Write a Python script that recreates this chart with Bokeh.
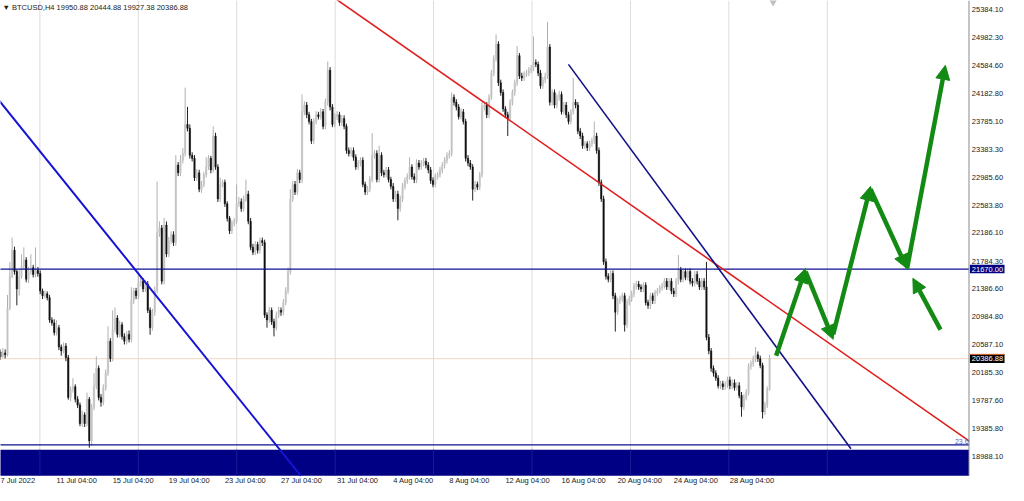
from bokeh.plotting import figure
from bokeh.models import ColumnDataSource, Range1d, Label, Arrow, NormalHead
from bokeh.core.properties import value
from bokeh.embed import file_html
from bokeh.resources import INLINE

# ---------------- data (BTCUSD H4, bar index 0 = 7 Jul 2022 00:00) ----------------
first_open = 20429
closes = [
    20484, 20415, 20470, 20443, 21108, 21565, 21939, 21634, 21385, 21565,
    21704, 21800, 21523, 21634, 21690, 21593, 21648, 21607, 21357, 21288,
    21316, 21260, 20941, 20900, 20761, 20831, 20554, 20498, 20567, 20401,
    19833, 19944, 19986, 19806, 19723, 19459, 19584, 19459, 19806, 19210,
    19695, 19999, 20249, 19833, 19764, 19972, 20180, 20637, 20387, 20803,
    20969, 20734, 20872, 20706, 20637, 20734, 20664, 21219, 21357, 21288,
    21468, 21496, 21385, 21454, 21080, 20831, 21052, 21357, 22188, 22258,
    21496, 22299, 21884, 22077, 22161, 22050, 23158, 23047, 23227, 23324,
    23740, 23684, 23297, 23255, 22978, 23047, 22812, 22881, 23020, 23130,
    23255, 23089, 23574, 23130, 22673, 22881, 22909, 22604, 22396, 22216,
    22327, 22354, 22604, 22632, 22535, 22673, 22742, 22354, 21981, 21911,
    22022, 21939, 22077, 22050, 21011, 20941, 21080, 20914, 20831, 21011,
    21080, 21052, 21191, 21357, 21634, 22673, 22881, 22771, 23047, 22950,
    23920, 24017, 23878, 23781, 23504, 23781, 23878, 23851, 23920, 23712,
    24058, 24516, 23989, 23740, 23851, 23878, 23768, 23823, 23712, 23366,
    23324, 23366, 23269, 23130, 23186, 23227, 22881, 22771, 22812, 22950,
    23297, 23324, 22950, 23297, 23047, 23020, 23089, 22950, 22853, 22673,
    22742, 22535, 22673, 22853, 22936, 22992, 23130, 22992, 22950, 23186,
    23130, 23186, 23213, 23158, 23089, 22936, 22881, 22992, 23020, 23089,
    23158, 23227, 23297, 23324, 24128, 24058, 23989, 23851, 23920, 23781,
    23255, 23186, 23130, 22812, 22881, 22840, 23020, 23989, 24017, 23878,
    24128, 24474, 24682, 24890, 24336, 24197, 23962, 23878, 23823, 24058,
    24197, 24336, 24723, 24432, 24405, 24460, 24474, 24516, 24543, 24626,
    24599, 24474, 24294, 24377, 24432, 24848, 24058, 24197, 24017, 24128,
    24169, 23920, 24017, 23878, 23781, 23920, 24058, 24017, 23643, 23574,
    23435, 23463, 23407, 23463, 23504, 23574, 23366, 22909, 22673, 21773,
    21565, 21523, 21607, 21288, 21052, 21219, 21246, 21288, 20872, 21191,
    21246, 21316, 21427, 21454, 21413, 21385, 21440, 21191, 21149, 21288,
    21219, 21330, 21357, 21399, 21427, 21496, 21413, 21496, 21357, 21316,
    21496, 21662, 21523, 21634, 21551, 21634, 21496, 21468, 21593, 21496,
    21413, 21496, 21413, 20692, 20498, 20249, 20180, 20110, 19999, 20027,
    19986, 20013, 20083, 19999, 20041, 19972, 19999, 19861, 19695, 19833,
    19903, 20277, 20318, 20387, 20443, 20387, 20291, 19625, 19723, 19950.88,
    20386.88,
]
highs = [
    20530, 20520, 20540, 20520, 21300, 21770, 22120, 21990, 21660, 21660,
    21880, 21980, 21840, 21700, 21880, 21730, 21980, 21700, 21650, 21390,
    21360, 21350, 21300, 20980, 20950, 20940, 20870, 20590, 20620, 20610,
    20440, 19990, 20110, 20020, 19850, 19760, 19640, 19620, 19900, 19840,
    19740, 20180, 20420, 20290, 19880, 20020, 20230, 20850, 20680, 21080,
    21120, 21010, 20930, 20910, 20750, 20780, 20790, 21410, 21400, 21400,
    21630, 21560, 21540, 21510, 21500, 21120, 21100, 21420, 22920, 22350,
    22300, 22400, 22350, 22130, 22210, 22210, 23300, 23200, 23300, 23400,
    24266, 23990, 23740, 23340, 23300, 23100, 23090, 22930, 23060, 23270,
    23300, 23290, 23712, 23620, 23170, 22978, 22950, 22950, 22640, 22430,
    22370, 22400, 22880, 22700, 22680, 22720, 22950, 22790, 22400, 22030,
    22070, 22060, 22120, 22120, 22090, 21050, 21130, 21120, 20960, 21060,
    21130, 21120, 21240, 21410, 21690, 22812, 22930, 22930, 23100, 23090,
    24169, 24070, 24060, 23920, 23820, 23830, 23930, 23920, 23970, 23960,
    24110, 24640, 24560, 24030, 23900, 23930, 23920, 23870, 23870, 23750,
    23410, 23410, 23410, 23310, 23230, 23270, 23270, 22920, 22860, 23000,
    23615, 23370, 23370, 23435, 23340, 23090, 23130, 23130, 22990, 22900,
    22790, 22790, 22720, 22900, 22980, 23040, 23270, 23170, 23040, 23240,
    23230, 23230, 23260, 23260, 23200, 23130, 22980, 23040, 23060, 23130,
    23200, 23270, 23340, 23370, 24197, 24170, 24100, 24030, 23970, 23960,
    23820, 23300, 23230, 23170, 22930, 22920, 23060, 24058, 24070, 24060,
    24170, 24520, 24730, 25028, 24930, 24380, 24240, 24000, 23920, 24100,
    24240, 24380, 24862, 24760, 24480, 24500, 24520, 24560, 24590, 25000,
    24670, 24640, 24520, 24420, 24480, 25208, 24890, 24240, 24240, 24170,
    24220, 24210, 24060, 24060, 23920, 23960, 24405, 24100, 24060, 23690,
    23620, 23500, 23500, 23510, 23550, 23781, 23620, 23410, 22950, 22720,
    21820, 21610, 21650, 21650, 21330, 21260, 21290, 21330, 21330, 21240,
    21290, 21360, 21470, 21500, 21500, 21450, 21480, 21480, 21230, 21330,
    21330, 21370, 21400, 21440, 21470, 21540, 21540, 21540, 21540, 21400,
    21540, 21870, 21700, 21680, 21680, 21680, 21680, 21540, 21640, 21640,
    21540, 21540, 21540, 21773, 20740, 20540, 20290, 20220, 20150, 20070,
    20070, 20060, 20130, 20130, 20090, 20090, 20050, 20050, 19910, 19880,
    19950, 20320, 20360, 20430, 20554, 20490, 20430, 20330, 19770, 19990,
    20444.88,
]
lows = [
    20390, 20370, 20400, 20390, 20420, 21080, 21540, 21590, 21150, 21290,
    21530, 21660, 21480, 21470, 21590, 21550, 21550, 21560, 21310, 21240,
    21250, 21220, 20900, 20860, 20720, 20720, 20510, 20430, 20460, 20350,
    19800, 19780, 19900, 19760, 19680, 19420, 19410, 19410, 19418, 19113,
    19140, 19650, 19950, 19790, 19700, 19720, 19930, 20140, 20340, 20350,
    20760, 20690, 20690, 20660, 20590, 20590, 20620, 20620, 21170, 21240,
    21240, 21420, 21340, 21340, 21040, 20730, 20790, 21000, 21320, 22130,
    21450, 21450, 21840, 21840, 22030, 22000, 22000, 23000, 23000, 23180,
    23280, 23640, 23250, 23210, 22930, 22930, 22770, 22760, 22840, 22980,
    23090, 23040, 23050, 23090, 22630, 22630, 22840, 22560, 22350, 22170,
    22170, 22280, 22310, 22560, 22490, 22490, 22630, 22310, 21940, 21870,
    21870, 21890, 21890, 22000, 20970, 20830, 20900, 20870, 20706, 20790,
    20970, 21000, 21010, 21150, 21310, 21590, 22630, 22730, 22730, 22900,
    22900, 23870, 23830, 23740, 23460, 23460, 23740, 23810, 23810, 23670,
    23670, 24010, 23940, 23700, 23700, 23800, 23720, 23720, 23670, 23320,
    23280, 23280, 23220, 23090, 23090, 23140, 22840, 22730, 22730, 22770,
    22910, 23250, 22910, 22910, 23000, 22980, 22980, 22910, 22810, 22630,
    22630, 22368, 22490, 22630, 22810, 22890, 22950, 22950, 22900, 22900,
    23090, 23090, 23140, 23110, 23040, 22890, 22840, 22840, 22950, 22980,
    23040, 23110, 23180, 23250, 23280, 24010, 23940, 23810, 23810, 23740,
    23210, 23140, 23090, 22650, 22770, 22800, 22800, 22980, 23940, 23830,
    23830, 24090, 24430, 24640, 24290, 24150, 23920, 23830, 23574, 23780,
    24010, 24150, 24290, 24390, 24360, 24360, 24420, 24430, 24470, 24500,
    24560, 24430, 24250, 24250, 24330, 24390, 24010, 24010, 23970, 23970,
    24080, 23880, 23880, 23830, 23740, 23740, 23880, 23970, 23600, 23530,
    23390, 23390, 23360, 23360, 23420, 23460, 23320, 22860, 22630, 21730,
    21520, 21480, 21480, 21240, 20775, 21010, 21170, 21200, 20775, 20830,
    21150, 21200, 21270, 21380, 21370, 21340, 21340, 21150, 21100, 21100,
    21170, 21170, 21290, 21320, 21360, 21390, 21370, 21370, 21310, 21270,
    21270, 21450, 21480, 21480, 21510, 21510, 21450, 21420, 21420, 21450,
    21370, 21370, 21370, 20650, 20450, 20200, 20130, 20070, 19960, 19950,
    19940, 19940, 19970, 19950, 19950, 19930, 19930, 19820, 19556, 19650,
    19790, 19860, 20230, 20270, 20340, 20340, 20250, 19530, 19580, 19680,
    19927.38,
]

time_labels = ["7 Jul 2022", "11 Jul 04:00", "15 Jul 04:00", "19 Jul 04:00",
               "23 Jul 04:00", "27 Jul 04:00", "31 Jul 04:00", "4 Aug 04:00",
               "8 Aug 04:00", "12 Aug 04:00", "16 Aug 04:00", "20 Aug 04:00",
               "24 Aug 04:00", "28 Aug 04:00"]
time_label_bars = [1.0, 25, 49, 73, 97, 121, 145, 169, 193, 217, 241, 265, 289, 313]

price_ticks = [25384.10, 24982.30, 24584.60, 24182.80, 23785.10, 23383.30,
               22985.60, 22583.80, 22186.10, 21784.30, 21386.60, 20984.80,
               20587.10, 20185.30, 19787.60, 19385.80, 18988.10]

resistance_level = 21670.00
last_price = 20386.88
fib_level = 19154
zone_top = 19085
zone_bottom = 18711

# drawn objects (bar index, price)
blue_trend_x = [-2, 129.5]
blue_trend_y = [24183, 18711]
red_trend_x = [140, 415.3]
red_trend_y = [25639, 19211]
navy_trend_x = [243.96, 364.8]
navy_trend_y = [24599, 19099]

arrow_x0 = [332.8, 345.4, 357.2, 373.2, 388.8, 403.1]
arrow_y0 = [20429, 21634, 20734, 22812, 21676, 20803]
arrow_x1 = [345.4, 357.2, 373.2, 388.8, 405.2, 391.3]
arrow_y1 = [21676, 20664, 22853, 21676, 24585, 21537]

grid_bars = [17.85, 59.96, 102.06, 144.17, 186.27, 228.38, 270.48, 312.59, 354.69]

# ---------------- figure ----------------
X0 = 1.01        # left edge of chart area (bars)
XP = 415.3       # right edge of price area (bars) -> price scale starts here
XR = 432.2       # right edge of the whole picture (bars)
Y0, Y1 = 18572, 25513
FONT = "Liberation Sans"
TXT = "#222222"

p = figure(width=1008, height=485, x_range=Range1d(X0, XR), y_range=Range1d(Y0, Y1),
           output_backend="svg", toolbar_location=None,
           x_axis_location=None, y_axis_location=None,
           min_border_left=0, min_border_right=0, min_border_top=0, min_border_bottom=0)
p.outline_line_color = None
p.grid.visible = False
p.background_fill_color = "white"
p.border_fill_color = "white"

# vertical grid
p.segment(x0=grid_bars, x1=grid_bars, y0=[zone_bottom] * len(grid_bars),
          y1=[Y1] * len(grid_bars), line_color="#dcdcdc", line_width=1)

# zone rectangle
p.quad(left=[X0 - 5], right=[XP], top=[zone_top], bottom=[zone_bottom],
       fill_color="#000085", line_color=None)
p.segment(x0=grid_bars, x1=grid_bars, y0=[zone_bottom] * len(grid_bars),
          y1=[zone_top] * len(grid_bars), line_color="#1c1c96", line_width=1)

# last price line (behind candles)
p.segment(x0=[X0 - 5], x1=[XP], y0=[last_price], y1=[last_price],
          line_color="#f2d6bf", line_width=1)

# candles
opens = [first_open] + closes[:-1]
idx = list(range(len(closes)))
hi = [max(h, o, c) for h, o, c in zip(highs, opens, closes)]
lo = [min(l, o, c) for l, o, c in zip(lows, opens, closes)]
up = [c >= o for o, c in zip(opens, closes)]
src = ColumnDataSource(dict(
    x=idx, o=opens, c=closes, h=hi, l=lo,
    top=[max(o, c) for o, c in zip(opens, closes)],
    bot=[min(o, c) for o, c in zip(opens, closes)],
    body=["#c4c4c4" if u else "#111111" for u in up],
    wick=["#b0b0b0" if u else "#222222" for u in up],
))
p.segment(x0="x", x1="x", y0="l", y1="h", line_color="wick", line_width=1, source=src)
p.vbar(x="x", width=0.6, top="top", bottom="bot", fill_color="body",
       line_color="body", line_width=0.5, source=src)

# horizontal levels
p.segment(x0=[X0 - 5], x1=[XP], y0=[resistance_level], y1=[resistance_level],
          line_color="#101090", line_width=1.2)
p.segment(x0=[X0 - 5], x1=[XP], y0=[fib_level], y1=[fib_level],
          line_color="#101090", line_width=1.2)

# trend lines
p.line(blue_trend_x, blue_trend_y, line_color="#1414d2", line_width=2)
p.line(red_trend_x, red_trend_y, line_color="#e01e1e", line_width=1.6)
p.line(navy_trend_x, navy_trend_y, line_color="#121288", line_width=1.6)

# chart-shift marker
p.scatter(x=[331.5], y=[Y1], marker="inverted_triangle", size=9,
          fill_color="#c0c0c0", line_color="#c0c0c0")

# green arrows
GREEN = "#138a13"
for xa, ya, xb, yb in zip(arrow_x0, arrow_y0, arrow_x1, arrow_y1):
    p.add_layout(Arrow(end=NormalHead(size=14, fill_color=GREEN, line_color=GREEN, line_width=1),
                       x_start=xa, y_start=ya, x_end=xb, y_end=yb,
                       line_color=GREEN, line_width=4.5))

# price scale (drawn inside the canvas)
p.segment(x0=[XP], x1=[XP], y0=[zone_bottom], y1=[Y1], line_color="#8a8a8a", line_width=1)
p.text(x=[XP + 1.2] * len(price_ticks), y=price_ticks,
       text=["%.2f" % t for t in price_ticks],
       text_font=value(FONT), text_font_size="7.5px", text_color=TXT,
       text_align="left", text_baseline="middle")

# price boxes on the scale
box_half = 62
p.quad(left=[XP + 0.4], right=[XP + 15.2], top=[resistance_level + box_half],
       bottom=[resistance_level - box_half], fill_color="#000080", line_color=None)
p.quad(left=[XP + 0.4], right=[XP + 15.2], top=[last_price + box_half],
       bottom=[last_price - box_half], fill_color="#000000", line_color=None)
p.segment(x0=[XP + 0.4], x1=[XP + 15.2], y0=[last_price + box_half],
          y1=[last_price + box_half], line_color="#e8622a", line_width=1)
p.text(x=[XP + 1.2, XP + 1.2], y=[resistance_level, last_price],
       text=["%.2f" % resistance_level, "%.2f" % last_price],
       text_font=value(FONT), text_font_size="7.5px", text_color="white",
       text_align="left", text_baseline="middle")

# fib label
p.text(x=[XP - 0.2], y=[fib_level + 15], text=["23.6"], text_font=value(FONT),
       text_font_size="7px", text_color="#5a5ad0", text_align="right",
       text_baseline="bottom")

# time labels (bottom strip)
label_row = 18642
p.text(x=time_label_bars, y=[label_row] * len(time_label_bars), text=time_labels,
       text_font=value(FONT), text_font_size="7.5px", text_color=TXT,
       text_align="left", text_baseline="middle")

# header
p.add_layout(Label(x=2, y=483, x_units="screen", y_units="screen",
                   text="\u25bc BTCUSD,H4  19950.88 20444.88 19927.38 20386.88",
                   text_font=FONT, text_font_size="7.5px", text_color=TXT,
                   text_baseline="top"))

open("out.html", "w").write(file_html(p, INLINE))
